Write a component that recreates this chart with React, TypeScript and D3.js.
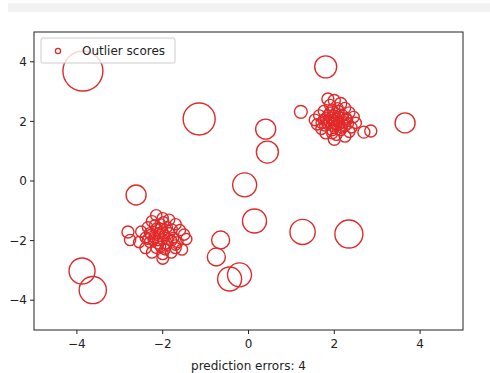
import * as d3 from "d3";

const width = 490;
const height = 373;
const M = { left: 34, right: 27, top: 32, bottom: 43 };

// outlier points (x, y, score)
const outlierX = [-3.86, -1.15, 1.8, 0.4, 0.44, 3.65, -2.62, -0.09, 0.14, 1.26, 2.34, -0.65, -0.75, -0.44, -0.21, -3.88, -3.63];
const outlierY = [3.69, 2.08, 3.83, 1.74, 0.97, 1.95, -0.47, -0.13, -1.34, -1.71, -1.78, -1.98, -2.55, -3.29, -3.15, -3.02, -3.66];
const outlierScore = [1.0, 0.8, 0.55, 0.5, 0.55, 0.5, 0.5, 0.6, 0.6, 0.63, 0.7, 0.45, 0.45, 0.6, 0.6, 0.65, 0.68];

// cluster near (2, 2)
const clusterAX = [1.85, 2.0, 2.15, 1.9, 2.25, 1.75, 1.95, 2.1, 2.35, 1.65, 1.85, 2.0, 2.2, 2.45, 1.55, 1.75, 1.95, 2.1, 2.3, 2.5, 1.6, 1.85, 2.05, 2.25, 2.4, 1.7, 1.95, 2.15, 2.35, 1.8, 2.05, 2.25, 2.0, 1.9, 2.1, 1.7, 2.2, 2.0, 1.22, 2.69, 2.85,
  1.92, 2.05, 2.12, 1.98, 1.8, 2.28, 2.02, 1.88, 2.18, 1.95, 2.08, 1.78, 2.32, 2.0];
const clusterAY = [2.75, 2.7, 2.6, 2.55, 2.45, 2.35, 2.4, 2.35, 2.3, 2.2, 2.2, 2.2, 2.2, 2.15, 2.05, 2.05, 2.05, 2.0, 2.05, 1.95, 1.9, 1.9, 1.85, 1.85, 1.8, 1.75, 1.7, 1.7, 1.65, 1.6, 1.55, 1.5, 1.4, 2.3, 2.15, 1.95, 1.95, 1.95, 2.32, 1.64, 1.68,
  2.12, 2.08, 1.92, 1.82, 2.12, 2.12, 2.28, 2.0, 1.78, 1.6, 2.45, 1.85, 1.92, 2.02];
const clusterAScore = [0.3, 0.3, 0.3, 0.28, 0.28, 0.27, 0.27, 0.27, 0.28, 0.28, 0.27, 0.27, 0.27, 0.28, 0.29, 0.27, 0.27, 0.27, 0.27, 0.28, 0.28, 0.27, 0.27, 0.27, 0.28, 0.28, 0.27, 0.27, 0.28, 0.28, 0.28, 0.29, 0.3, 0.27, 0.27, 0.27, 0.27, 0.27, 0.32, 0.3, 0.3,
  0.26, 0.26, 0.26, 0.26, 0.26, 0.26, 0.26, 0.26, 0.26, 0.27, 0.27, 0.26, 0.27, 0.26];

// cluster near (-2, -2)
const clusterBX = [-2.15, -2.0, -1.85, -2.25, -2.05, -1.7, -2.35, -2.15, -1.9, -1.6, -2.5, -2.3, -2.1, -1.85, -1.5, -2.4, -2.2, -2.0, -1.75, -1.45, -2.55, -2.3, -2.1, -1.9, -1.65, -2.4, -2.15, -1.95, -1.7, -2.25, -2.0, -1.8, -2.0, -1.55, -2.05, -1.8, -2.81, -2.76,
  -2.08, -1.95, -2.22, -1.88, -2.12, -2.0, -1.78, -2.28, -2.05, -1.92, -2.18, -1.7, -2.35, -1.98];
const clusterBY = [-1.15, -1.25, -1.3, -1.35, -1.45, -1.45, -1.55, -1.6, -1.55, -1.65, -1.7, -1.75, -1.75, -1.75, -1.8, -1.9, -1.9, -1.95, -1.9, -1.95, -2.05, -2.05, -2.1, -2.1, -2.05, -2.25, -2.25, -2.3, -2.25, -2.4, -2.45, -2.4, -2.6, -2.3, -1.6, -2.0, -1.71, -1.98,
  -1.85, -1.82, -1.98, -1.95, -2.0, -1.68, -1.62, -1.8, -2.2, -2.18, -1.48, -2.15, -1.95, -1.38];
const clusterBScore = [0.28, 0.28, 0.28, 0.28, 0.27, 0.28, 0.27, 0.27, 0.27, 0.28, 0.28, 0.27, 0.27, 0.27, 0.28, 0.27, 0.27, 0.27, 0.27, 0.28, 0.28, 0.27, 0.27, 0.27, 0.27, 0.28, 0.27, 0.27, 0.28, 0.28, 0.28, 0.28, 0.29, 0.28, 0.27, 0.27, 0.3, 0.28,
  0.26, 0.26, 0.26, 0.26, 0.26, 0.26, 0.26, 0.26, 0.26, 0.26, 0.27, 0.26, 0.26, 0.27];

const xTicks = [-4, -2, 0, 2, 4];
const yTicks = [-4, -2, 0, 2, 4];

const toPoints = (xs: number[], ys: number[], ss: number[]) =>
  xs.map((x, i) => ({ x, y: ys[i], s: ss[i] }));

export default function App() {
  const x = d3.scaleLinear().domain([-5, 5]).range([M.left, width - M.right]);
  const y = d3.scaleLinear().domain([-5, 5]).range([height - M.bottom, M.top]);
  const r = d3.scaleLinear().domain([0, 1]).range([0, 20]);

  const points = [
    ...toPoints(clusterAX, clusterAY, clusterAScore),
    ...toPoints(clusterBX, clusterBY, clusterBScore),
    ...toPoints(outlierX, outlierY, outlierScore),
  ];

  const font = "DejaVu Sans, sans-serif";
  const red = "#e02a2a";

  return (
    <svg width={width} height={height} style={{ position: "absolute", left: 0, top: 0, background: "#fff" }}>
      <rect x={8} y={3} width={482} height={9} fill="#f2f2f2" />
      <g>
        {points.map((p, i) => (
          <circle key={i} cx={x(p.x)} cy={y(p.y)} r={r(p.s)} fill="none" stroke={red} strokeWidth={1.4} />
        ))}
      </g>
      <rect x={M.left} y={M.top} width={width - M.left - M.right} height={height - M.top - M.bottom}
        fill="none" stroke="#222" strokeWidth={1} />
      {xTicks.map((t) => (
        <g key={"x" + t} transform={`translate(${x(t)},${height - M.bottom})`}>
          <line y2={4} stroke="#222" />
          <text y={18} textAnchor="middle" fontFamily={font} fontSize={12} fill="#222">
            {t < 0 ? "\u2212" + Math.abs(t) : t}
          </text>
        </g>
      ))}
      {yTicks.map((t) => (
        <g key={"y" + t} transform={`translate(${M.left},${y(t)})`}>
          <line x2={-4} stroke="#222" />
          <text x={-7} dy="0.35em" textAnchor="end" fontFamily={font} fontSize={12} fill="#222">
            {t < 0 ? "\u2212" + Math.abs(t) : t}
          </text>
        </g>
      ))}
      <text x={x(0)} y={370} textAnchor="middle" fontFamily={font} fontSize={12} fill="#222">
        prediction errors: 4
      </text>
      <g>
        <rect x={41} y={38} width={134} height={25} rx={2} fill="#fff" fillOpacity={0.8} stroke="#ccc" />
        <circle cx={58} cy={51} r={2.6} fill="none" stroke={red} strokeWidth={1.3} />
        <text x={82} y={55} fontFamily={font} fontSize={12} fill="#222">Outlier scores</text>
      </g>
    </svg>
  );
}
